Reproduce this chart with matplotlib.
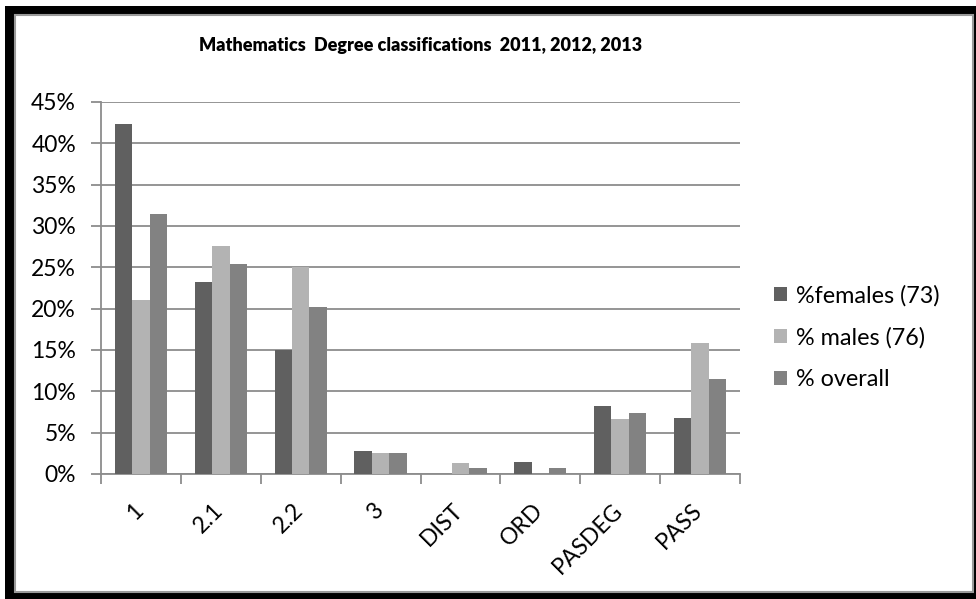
import numpy as np
import matplotlib
matplotlib.use("Agg")
import matplotlib.pyplot as plt
from matplotlib.patches import Rectangle
from matplotlib.ticker import FuncFormatter, MultipleLocator
import matplotlib.transforms as mtransforms

categories = ["1", "2.1", "2.2", "3", "DIST", "ORD", "PASDEG", "PASS"]
females = [42.3, 23.2, 15.0, 2.8, 0.0, 1.4, 8.2, 6.8]
males = [21.1, 27.6, 25.0, 2.6, 1.3, 0.0, 6.6, 15.8]
overall = [31.5, 25.4, 20.2, 2.6, 0.7, 0.7, 7.4, 11.5]
series_names = ["%females (73)", "% males (76)", "% overall"]
colors = ["#606060", "#b3b3b3", "#828282"]

plt.rcParams["font.family"] = ["Lato", "DejaVu Sans"]

W, H = 976, 599
fig = plt.figure(figsize=(W / 100, H / 100), dpi=100)

# black outer frame with thin grey inner edge (pixel coords)
fig.patches.append(Rectangle((5, 0), W - 5, H - 6, transform=None,
                             facecolor="black", edgecolor="none", zorder=-3))
fig.patches.append(Rectangle((15, 7), 958, 577, transform=None,
                             facecolor="white", edgecolor="#9a9a9a",
                             linewidth=1.5, zorder=-2))

ax = fig.add_axes([101 / W, 1 - 474 / H, (740 - 101) / W, (474 - 102) / H])
ax.set_facecolor("none")

x = np.arange(len(categories))
w = 0.218
for i, vals in enumerate([females, males, overall]):
    ax.bar(x + (i - 1) * w, np.array(vals) / 100, width=w, color=colors[i],
           edgecolor="none", label=series_names[i], zorder=3)

ax.set_xlim(-0.5, len(categories) - 0.5)
ax.set_ylim(0, 0.45)
ax.yaxis.set_major_locator(MultipleLocator(0.05))
ax.yaxis.set_major_formatter(FuncFormatter(lambda v, p: f"{v * 100:.0f}%"))
ax.yaxis.grid(True, color="#8c8c8c", linewidth=1.3, zorder=0)

ax.set_xticks(x)
ax.set_xticklabels(categories, rotation=45, ha="right", va="center",
                   rotation_mode="anchor", fontsize=16.5)
ax.set_xticks(np.arange(len(categories) + 1) - 0.5, minor=True)
ax.tick_params(axis="x", which="major", length=0, pad=24)
ax.tick_params(axis="x", which="minor", length=7, color="#8c8c8c", width=1.3)
ax.tick_params(axis="y", length=7, color="#8c8c8c", width=1.3, labelsize=16.5,
               pad=11)

# nudge the rotated labels slightly left
shift = mtransforms.ScaledTranslation(-1 / 100, 0, fig.dpi_scale_trans)
for lab in ax.get_xticklabels():
    lab.set_transform(lab.get_transform() + shift)

for s in ["top", "right"]:
    ax.spines[s].set_visible(False)
for s in ["left", "bottom"]:
    ax.spines[s].set_color("#8c8c8c")
    ax.spines[s].set_linewidth(1.3)

leg = fig.legend(loc="upper left", bbox_to_anchor=(753 / W, 1 - 264 / H),
                 frameon=False, fontsize=16.8, handlelength=0.55,
                 handleheight=0.55, handletextpad=0.4, labelspacing=0.88)

fig.text(421 / W, 1 - 45 / H, "Mathematics  Degree classifications  2011, 2012, 2013",
         ha="center", va="center", fontsize=13, fontweight="heavy")

fig.savefig("out.png", dpi=100)
